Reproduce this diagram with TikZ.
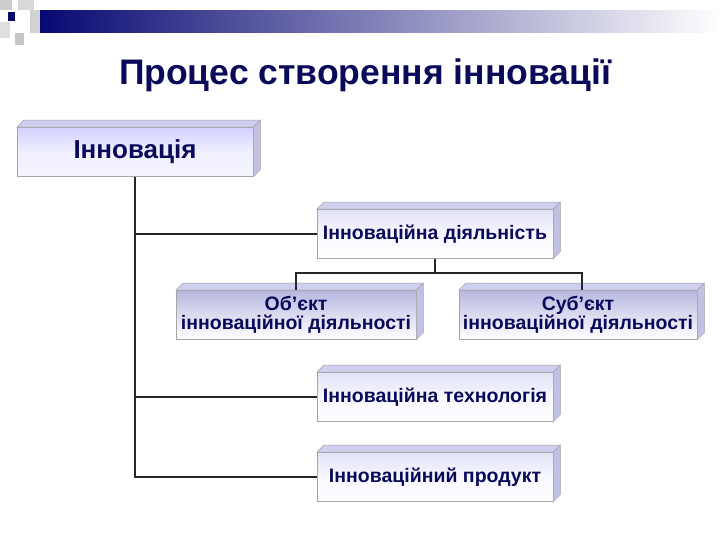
\documentclass[tikz,border=0pt]{standalone}
\usepackage{fontspec}
\setmainfont{Liberation Sans}
\begin{document}
\begin{tikzpicture}[x=1pt,y=-1pt,
  bx/.style={draw=gray!70, line width=0.6pt, minimum width=#1, minimum height=49pt, inner sep=0pt, align=center, text=navy, font=\fontsize{19.5}{19}\selectfont\bfseries, top color=gray!45!blue!15, bottom color=white, middle color=blue!3},
  bx/.default=236pt,
  ln/.style={line width=1.4pt, draw=black!85}]
\definecolor{navy}{HTML}{0A0A5A}
\useasboundingbox (0,0) rectangle (720,540);
\fill[white] (0,0) rectangle (720,540);
% banner
\shade[left color=navy!85!blue, right color=white] (40,11) rectangle (720,33);
\fill[gray!40] (0,0) rectangle (12,10);
\fill[gray!30] (18,0) rectangle (34,10);
\fill[gray!35] (30,10) rectangle (40,33);
\fill[gray!45] (15,33) rectangle (24,45);
\fill[gray!25] (0,22) rectangle (10,38);
\fill[navy!90!blue] (8,12) rectangle (15,21);
% title
\node (title) at (365,75) {\fontsize{35.5}{38}\selectfont\bfseries\color{navy}Процес створення інновації};
\newcommand{\depth}[1]{\fill[gray!50!blue!25,draw=gray!70,line width=0.5pt] (#1.north west) -- ++(7,-7) -- ([shift={(7,-7)}]#1.north east) -- (#1.north east) -- cycle;
 \fill[gray!60!blue!35,draw=gray!70,line width=0.5pt] (#1.north east) -- ++(7,-7) -- ([shift={(7,-7)}]#1.south east) -- (#1.south east) -- cycle;}
\node[bx, top color=blue!18, bottom color=blue!4, middle color=blue!6, font=\fontsize{26}{28}\selectfont\bfseries] (inn) at (135,152) {Інновація}; \depth{inn}
\node[bx] (dial) at (435,234) {Інноваційна діяльність}; \depth{dial}
\node[bx=240pt, top color=gray!60!blue!40] (obj) at (296,315) {Об’єкт\\інноваційної діяльності}; \depth{obj}
\node[bx=238pt, top color=gray!60!blue!40] (sub) at (578,315) {Суб’єкт\\інноваційної діяльності}; \depth{sub}
\node[bx] (tech) at (435,397) {Інноваційна технологія}; \depth{tech}
\node[bx] (prod) at (435,477) {Інноваційний продукт}; \depth{prod}
\draw[ln] (inn.south) |- (prod.west);
\draw[ln] (inn.south) |- (dial.west);
\draw[ln] (inn.south) |- (tech.west);
\draw[ln] (dial.south) -- ++(0,14) coordinate (m) -| (obj.north);
\draw[ln] (m) -| ([xshift=4pt]sub.north);
\end{tikzpicture}
\end{document}
